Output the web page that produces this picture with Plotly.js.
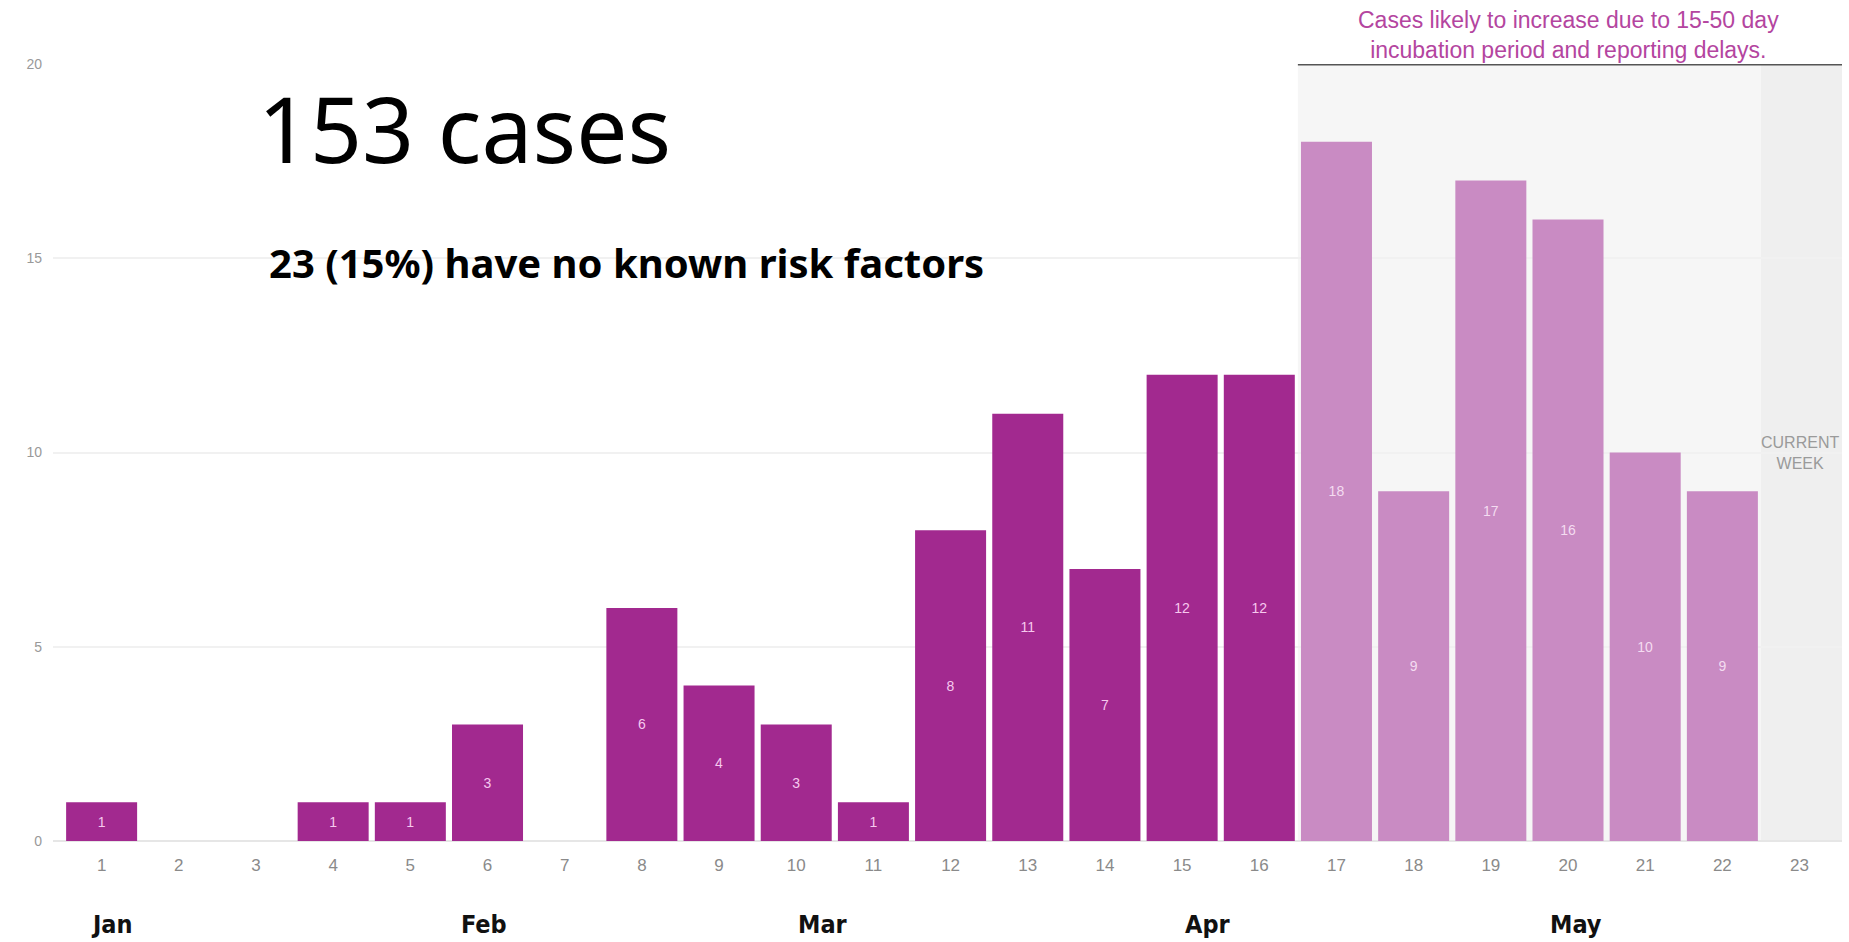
<!DOCTYPE html>
<html>
<head>
<meta charset="utf-8">
<script src="https://cdn.plot.ly/plotly-3.0.1.min.js"></script>
<style>
  html, body { margin: 0; padding: 0; background: #ffffff; }
  #chart { width: 1849px; height: 942px; }
</style>
</head>
<body>
<div id="chart"></div>
<script>
// Weekly case counts, week numbers 1-23
const weeks = [1, 2, 3, 4, 5, 6, 7, 8, 9, 10, 11, 12, 13, 14, 15, 16, 17, 18, 19, 20, 21, 22, 23];
const cases = [1, 0, 0, 1, 1, 3, 0, 6, 4, 3, 1, 8, 11, 7, 12, 12, 18, 9, 17, 16, 10, 9, 0];
// First week whose counts are still expected to grow
const firstIncompleteWeek = 17;
const currentWeek = 23;

// Month labels along the bottom, placed by week position
const monthNames = ['Jan', 'Feb', 'Mar', 'Apr', 'May'];
const monthPos = [1.13, 5.95, 10.35, 15.34, 20.1];

const yTicks = [0, 5, 10, 15, 20];

const DARK = '#a2298f';
const LIGHT = '#c98bc3';

const barColors = weeks.map(w => (w < firstIncompleteWeek ? DARK : LIGHT));
const labelColors = weeks.map(w => (w < firstIncompleteWeek ? '#f6c8ee' : '#f4dcf1'));
const labels = cases.map(v => (v > 0 ? String(v) : ''));

const xMin = 0.37, xMax = 23.55;

const trace = {
  type: 'bar',
  x: weeks,
  y: cases,
  text: labels,
  textposition: 'inside',
  insidetextanchor: 'middle',
  textangle: 0,
  constraintext: 'none',
  textfont: { family: 'Liberation Sans, Arial, sans-serif', size: 14, color: labelColors },
  marker: { color: barColors, line: { width: 0 } },
  hoverinfo: 'x+y',
  cliponaxis: false
};

const annotations = monthNames.map((m, i) => ({
  text: m,
  x: monthPos[i], xref: 'x',
  y: -0.108, yref: 'paper',
  xanchor: 'center', yanchor: 'middle',
  showarrow: false,
  font: { family: 'DejaVu Sans Condensed, Liberation Sans, Arial, sans-serif', size: 25, color: '#111111', weight: 'bold' }
}));

annotations.push(
  {
    text: '153 cases',
    x: 3.0, xref: 'x', y: 18.35, yref: 'y',
    xanchor: 'left', yanchor: 'middle', showarrow: false,
    font: { family: 'Noto Sans, Open Sans, sans-serif', size: 91, color: '#000000' }
  },
  {
    text: '23 (15%) have no known risk factors',
    x: 3.14, xref: 'x', y: 14.9, yref: 'y',
    xanchor: 'left', yanchor: 'middle', showarrow: false,
    font: { family: 'Noto Sans, Open Sans, sans-serif', size: 40, color: '#000000', weight: 'bold' }
  },
  {
    text: 'Cases likely to increase due to 15-50 day<br>incubation period and reporting delays.',
    x: 20, xref: 'x', y: 1.037, yref: 'paper',
    xanchor: 'center', yanchor: 'middle', showarrow: false, align: 'center',
    font: { family: 'Liberation Sans, Arial, sans-serif', size: 23, color: '#b4459f' }
  },
  {
    text: 'CURRENT<br>WEEK',
    x: currentWeek, xref: 'x', y: 10, yref: 'y',
    xanchor: 'center', yanchor: 'middle', showarrow: false, align: 'center',
    font: { family: 'Liberation Sans, Arial, sans-serif', size: 16, color: '#9a9a9a' }
  }
);

const shapes = [
  // period where counts are still incomplete
  {
    type: 'rect', layer: 'below',
    xref: 'x', yref: 'y',
    x0: firstIncompleteWeek - 0.5, x1: currentWeek - 0.5, y0: 0, y1: 20,
    fillcolor: '#f6f6f6', line: { width: 0 }
  },
  // current week
  {
    type: 'rect', layer: 'below',
    xref: 'x', yref: 'y',
    x0: currentWeek - 0.5, x1: xMax, y0: 0, y1: 20,
    fillcolor: '#efefef', line: { width: 0 }
  },
  // rule under the note
  {
    type: 'line', layer: 'above',
    xref: 'x', yref: 'y',
    x0: firstIncompleteWeek - 0.5, x1: xMax, y0: 20, y1: 20,
    line: { color: '#555555', width: 3 }
  }
];

const layout = {
  width: 1849, height: 942,
  paper_bgcolor: '#ffffff', plot_bgcolor: 'rgba(0,0,0,0)',
  margin: { l: 53, r: 7, t: 64, b: 101 },
  bargap: 0.08,
  showlegend: false,
  xaxis: {
    range: [xMin, xMax],
    tickmode: 'array', tickvals: weeks, ticktext: weeks.map(String),
    showgrid: false, zeroline: false, showline: false, ticks: '',
    ticklabelstandoff: 12,
    tickfont: { family: 'Liberation Sans, Arial, sans-serif', size: 17, color: '#8a8a8a' },
    fixedrange: true
  },
  yaxis: {
    range: [0, 20],
    tickmode: 'array', tickvals: yTicks, ticktext: yTicks.map(String),
    showgrid: true, gridcolor: '#f1f1f1', gridwidth: 2,
    zeroline: true, zerolinecolor: '#e6e6e6', zerolinewidth: 2,
    showline: false, ticks: '',
    ticklabelstandoff: 10,
    tickfont: { family: 'Liberation Sans, Arial, sans-serif', size: 14, color: '#999999' },
    fixedrange: true
  },
  shapes: shapes,
  annotations: annotations
};

Plotly.newPlot('chart', [trace], layout, { displayModeBar: false, staticPlot: true });
</script>
</body>
</html>
